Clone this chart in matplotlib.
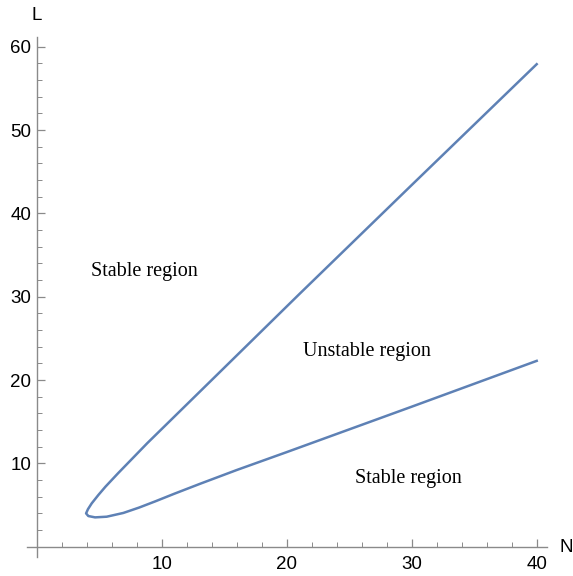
import numpy as np
import matplotlib.pyplot as plt
from matplotlib.ticker import MultipleLocator

# boundary curve, traced from top end through the nose to lower end
n_upper = [40.0, 30.0, 21.07, 14.0, 8.85, 7.73, 6.5, 5.5, 4.93, 4.4, 4.1, 3.95]
l_upper = [57.9, 43.4, 30.4, 20.0, 12.43, 10.7, 8.8, 7.2, 6.2, 5.2, 4.5, 4.0]
n_lower = [4.13, 4.67, 5.6, 6.93, 8.2, 9.5, 11.0, 13.07, 16.0, 20.0, 30.0, 40.0]
l_lower = [3.68, 3.52, 3.6, 4.05, 4.7, 5.45, 6.35, 7.55, 9.2, 11.35, 16.8, 22.3]

labels = ["Stable region", "Unstable region", "Stable region"]
label_n = [8.6, 26.4, 29.7]
label_l = [33.0, 23.4, 8.2]

x_ticks = [10, 20, 30, 40]
y_ticks = [10, 20, 30, 40, 50, 60]

fig = plt.figure(figsize=(5.73, 5.76), dpi=100)
ax = fig.add_axes([0.0466, 0.0335, 0.9075, 0.9028])

n_curve = np.array(n_upper + n_lower)
l_curve = np.array(l_upper + l_lower)
ax.plot(n_curve, l_curve, color='#5E81B5', lw=1.8, solid_joinstyle='round')

for txt, xn, yl in zip(labels, label_n, label_l):
    ax.text(xn, yl, txt, family='Liberation Serif', fontsize=14.5,
            ha='center', va='center')

ax.set_xlim(-0.8, 40.8)
ax.set_ylim(-1.2, 61.2)

# axes crossing at the origin, Mathematica style
for side in ['top', 'right']:
    ax.spines[side].set_visible(False)
for side in ['left', 'bottom']:
    ax.spines[side].set_position(('data', 0))
    ax.spines[side].set_color('#8a8a8a')
    ax.spines[side].set_linewidth(1.0)

ax.set_xticks(x_ticks)
ax.set_yticks(y_ticks)
ax.xaxis.set_minor_locator(MultipleLocator(2))
ax.yaxis.set_minor_locator(MultipleLocator(2))
ax.tick_params(which='major', direction='in', length=6, width=0.9, color='#8a8a8a',
               labelsize=13.5)
ax.tick_params(which='minor', direction='in', length=3.3, width=0.7, color='#8a8a8a')
ax.tick_params(axis='x', which='major', pad=7)
ax.tick_params(axis='y', which='major', pad=4)
for lab in ax.get_xticklabels() + ax.get_yticklabels():
    lab.set_family('Liberation Sans')

fig.text(36.7 / 573, 1 - 15 / 576, "L", family='Liberation Sans', fontsize=13.5,
         ha='center', va='center')
fig.text(566 / 573, 1 - 548 / 576, "N", family='Liberation Sans', fontsize=13.5,
         ha='center', va='center')

fig.savefig("out.png", dpi=100)
